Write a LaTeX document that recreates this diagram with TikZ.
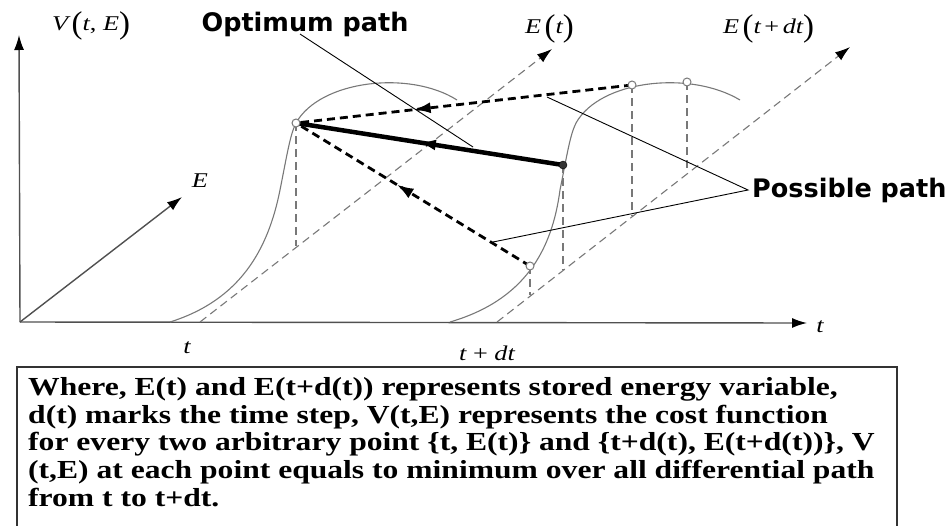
\documentclass[tikz,border=0pt]{standalone}
\usepackage{fontspec}
\setmainfont{Liberation Serif}
\newfontfamily\lblfont{DejaVu Sans}
\newfontfamily\mathlbl[FakeStretch=1.25]{Liberation Serif}
\newfontfamily\boxfont[FakeStretch=1.215]{Liberation Serif}
\usetikzlibrary{arrows.meta,decorations.markings}
\definecolor{axisgray}{HTML}{505050}
\definecolor{guidegray}{HTML}{787878}
\definecolor{boxgray}{HTML}{333333}
\newcommand{\bpar}[1]{\raisebox{-0.16em}{\scalebox{1.25}[1.5]{#1}}}
\begin{document}
\begin{tikzpicture}[x=1pt,y=-1pt,
  axis/.style={draw=axisgray, line width=1.4pt},
  tip/.style={-{Latex[length=15pt,width=10pt,color=black]}},
  guide/.style={draw=guidegray, line width=1.1pt, dash pattern=on 8pt off 5pt},
  curvest/.style={draw=guidegray, line width=1.1pt},
  lead/.style={draw=black, line width=0.9pt},
  optpath/.style={draw=black, line width=4.5pt},
  posspath/.style={draw=black, line width=2.8pt, dash pattern=on 8pt off 5pt},
  midarrow/.style={postaction={decorate}, decoration={markings,
      mark=at position #1 with {\arrow{Latex[length=17pt,width=11pt]}}}},
  opendot/.style={circle, draw=guidegray, fill=white, line width=1pt, minimum size=8pt, inner sep=0},
  filldot/.style={circle, draw=black, fill=black!80, minimum size=8pt, inner sep=0},
  mlbl/.style={inner sep=0, font=\fontsize{21}{21}\selectfont\mathlbl},
  blbl/.style={inner sep=0, font=\fontsize{25.5}{25.5}\selectfont\lblfont\bfseries},
  txt/.style={anchor=base west, inner sep=0, font=\fontsize{26}{26}\selectfont\boxfont\bfseries}]
\useasboundingbox (0,0) rectangle (950,525);
% axes
\coordinate (O) at (20,322);
\coordinate (Vtip) at (19,35);
\coordinate (Ttip) at (807,323);
\coordinate (Etip) at (182,197);
\draw[axis,tip] (O) -- (Vtip);
\draw[axis,tip] (O) -- (Ttip);
\draw[axis,tip] (O) -- (Etip);
% E(t) and E(t+dt) lines
\coordinate (Et0) at (200,322);
\coordinate (Et1) at (552,49);
\coordinate (Ed0) at (497,322);
\coordinate (Ed1) at (850,47);
\draw[guide,tip] (Et0) -- (Et1);
\draw[guide,tip] (Ed0) -- (Ed1);
% points
\coordinate (A) at (296,123);
\coordinate (B) at (563,165);
\coordinate (C) at (632,85);
\coordinate (D) at (687,82);
\coordinate (F) at (530,266);
% curves
\draw[curvest] (170,322) .. controls (240,300) and (268,250) .. (280,190)
   .. controls (287,155) and (290,135) .. (A)
   .. controls (320,80) and (410,70) .. (457,100);
\draw[curvest] (450,322) .. controls (525,300) and (552,250) .. (560,190)
   .. controls (567,155) and (570,135) .. (576,123)
   .. controls (600,80) and (690,70) .. (740,100);
% drop lines
\coordinate (Ab) at (296,246);
\coordinate (Bb) at (563,270);
\coordinate (Cb) at (632,216);
\coordinate (Db) at (687,172);
\coordinate (Fb) at (530,295);
\draw[guide] (A) -- (Ab);
\draw[guide] (B) -- (Bb);
\draw[guide] (C) -- (Cb);
\draw[guide] (D) -- (Db);
\draw[guide] (F) -- (Fb);
% paths
\draw[posspath,midarrow=0.65] (C) -- (A);
\draw[posspath,midarrow=0.57] (F) -- (A);
\draw[optpath,midarrow=0.54] (B) -- (A);
% dots
\node[opendot] (dA) at (A) {};
\node[opendot] (dC) at (C) {};
\node[opendot] (dD) at (D) {};
\node[opendot] (dF) at (F) {};
\node[filldot] (dB) at (B) {};
% labels
\node[mlbl, anchor=base west] (lV) at (52,30) {\itshape V\,\upshape\bpar{(}\itshape t\upshape, \itshape E\upshape\bpar{)}};
\node[mlbl, anchor=base] (lE) at (200,187) {\itshape E};
\node[mlbl, anchor=base] (lt1) at (187,353) {\itshape t};
\node[mlbl, anchor=base] (lt2) at (487,360) {\itshape t\upshape\ + \itshape dt};
\node[mlbl, anchor=base] (lt3) at (820,332) {\itshape t};
\node[mlbl, anchor=base west] (lEt) at (525,33) {\itshape E\,\upshape\bpar{(}\itshape t\upshape\bpar{)}};
\node[mlbl, anchor=base west] (lEd) at (723,33) {\itshape E\,\upshape\bpar{(}\itshape t\upshape\,+\,\itshape dt\upshape\bpar{)}};
\node[blbl, anchor=base] (opt) at (305,31) {Optimum path};
\node[blbl, anchor=base west] (pos) at (752,197) {Possible path};
% leader lines
\coordinate (optend) at (473,147);
\coordinate (p1) at (547,97);
\coordinate (p2) at (493,242);
\coordinate (pj) at (748,190);
\draw[lead] (300,34) -- (optend);
\draw[lead] (p1) -- (pj) -- (p2);
% text box
\draw[draw=boxgray, line width=1.5pt] (17,367) rectangle (897,545);
\node[txt] (l1) at (28,395) {Where, E(t) and E(t+d(t)) represents stored energy variable,};
\node[txt] (l2) at (28,423) {d(t) marks the time step, V(t,E) represents the cost function};
\node[txt] (l3) at (28,450) {for every two arbitrary point \{t, E(t)\} and \{t+d(t), E(t+d(t))\}, V};
\node[txt] (l4) at (28,478) {(t,E) at each point equals to minimum over all differential path};
\node[txt] (l5) at (28,506) {from t to t+dt.};
\end{tikzpicture}
\end{document}
